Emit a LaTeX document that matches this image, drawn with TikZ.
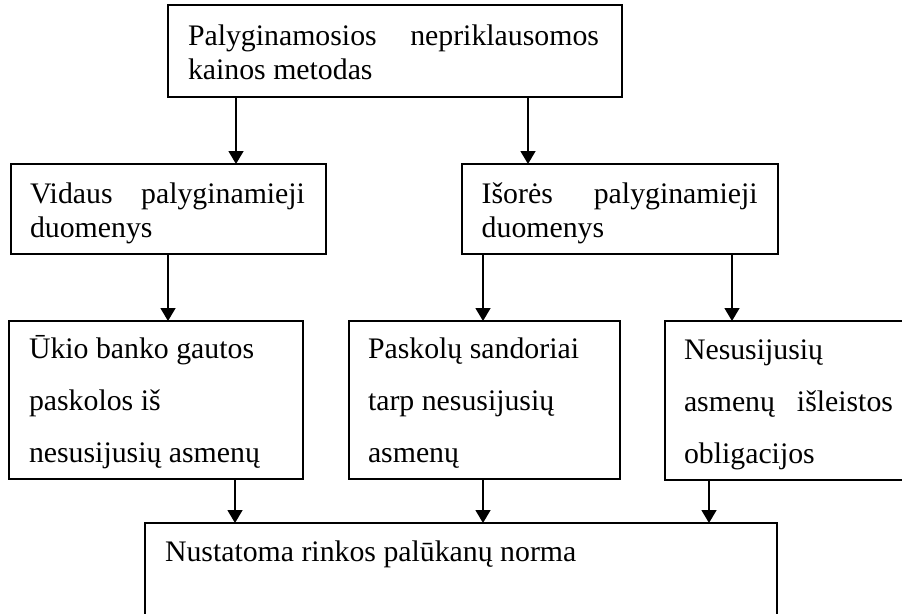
\documentclass[tikz,border=0pt]{standalone}
\usepackage{fontspec}
\setmainfont{Liberation Serif}
\usetikzlibrary{arrows.meta}

\tikzset{
  box/.style={draw, line width=1.7pt, inner sep=0pt, outer sep=0pt,
    anchor=north west, rectangle},
  txt/.style={inner sep=0pt, outer sep=0pt, anchor=base west,
    font=\fontsize{29.8}{34}\selectfont},
  arr/.style={line width=1.5pt, -{Triangle[width=15pt,length=13pt]}},
}

\begin{document}
\begin{tikzpicture}[x=1pt, y=-1pt]
\useasboundingbox (0,0) rectangle (902,613);
\clip (0,0) rectangle (902,613);

% boxes
\node[box, minimum width=454pt, minimum height=92pt]  (top)  at (168,5) {};
\node[box, minimum width=315pt, minimum height=90pt]  (vid)  at (10.7,164) {};
\node[box, minimum width=316pt, minimum height=90pt]  (isr)  at (461.7,164) {};
\node[box, minimum width=294pt, minimum height=158pt] (ukio) at (9.3,321) {};
\node[box, minimum width=271pt, minimum height=158pt] (pask) at (349,321) {};
\node[box, minimum width=260pt, minimum height=159pt] (nes)  at (664.7,321) {};
\node[box, minimum width=632pt, minimum height=120pt] (bot)  at (145,523) {};

% texts
\node[txt] (ttop) at ([xshift=20pt, yshift=-40pt]top.north west)
  {\begin{tabular}[t]{@{}l@{}}\hbox to 411pt{Palyginamosios\hfill nepriklausomos}\\ kainos metodas\end{tabular}};
\node[txt] (tvid) at ([xshift=19.3pt, yshift=-39.3pt]vid.north west)
  {\begin{tabular}[t]{@{}l@{}}\hbox to 275pt{Vidaus\hfill palyginamieji}\\ duomenys\end{tabular}};
\node[txt] (tisr) at ([xshift=20pt, yshift=-39.3pt]isr.north west)
  {\begin{tabular}[t]{@{}l@{}}\hbox to 276pt{Išorės\hfill palyginamieji}\\ duomenys\end{tabular}};
\node[txt] (tukio) at ([xshift=19.7pt, yshift=-37pt]ukio.north west)
  {\renewcommand{\arraystretch}{1.53}\begin{tabular}[t]{@{}l@{}}Ūkio banko gautos\\ paskolos iš\\ nesusijusių asmenų\end{tabular}};
\node[txt] (tpask) at ([xshift=19pt, yshift=-37pt]pask.north west)
  {\renewcommand{\arraystretch}{1.53}\begin{tabular}[t]{@{}l@{}}Paskolų sandoriai\\ tarp nesusijusių\\ asmenų\end{tabular}};
\node[txt] (tnes) at ([xshift=19.3pt, yshift=-38pt]nes.north west)
  {\renewcommand{\arraystretch}{1.53}\begin{tabular}[t]{@{}l@{}}Nesusijusių\\ \hbox to 209pt{asmenų\hfill išleistos}\\ obligacijos\end{tabular}};
\node[txt] (tbot) at ([xshift=20pt, yshift=-38.7pt]bot.north west)
  {Nustatoma rinkos palūkanų norma};

% connector columns
\coordinate (c1) at (236,0);
\coordinate (c2) at (528,0);
\coordinate (c3) at (168,0);
\coordinate (c4) at (483,0);
\coordinate (c5) at (732,0);
\coordinate (c6) at (235,0);
\coordinate (c7) at (483,0);
\coordinate (c8) at (709,0);

% connectors
\draw[arr] (top.south -| c1) -- (vid.north -| c1);
\draw[arr] (top.south -| c2) -- (isr.north -| c2);
\draw[arr] (vid.south -| c3) -- (ukio.north -| c3);
\draw[arr] (isr.south -| c4) -- (pask.north -| c4);
\draw[arr] (isr.south -| c5) -- (nes.north -| c5);
\draw[arr] (ukio.south -| c6) -- (bot.north -| c6);
\draw[arr] (pask.south -| c7) -- (bot.north -| c7);
\draw[arr] (nes.south -| c8) -- (bot.north -| c8);
\end{tikzpicture}
\end{document}
